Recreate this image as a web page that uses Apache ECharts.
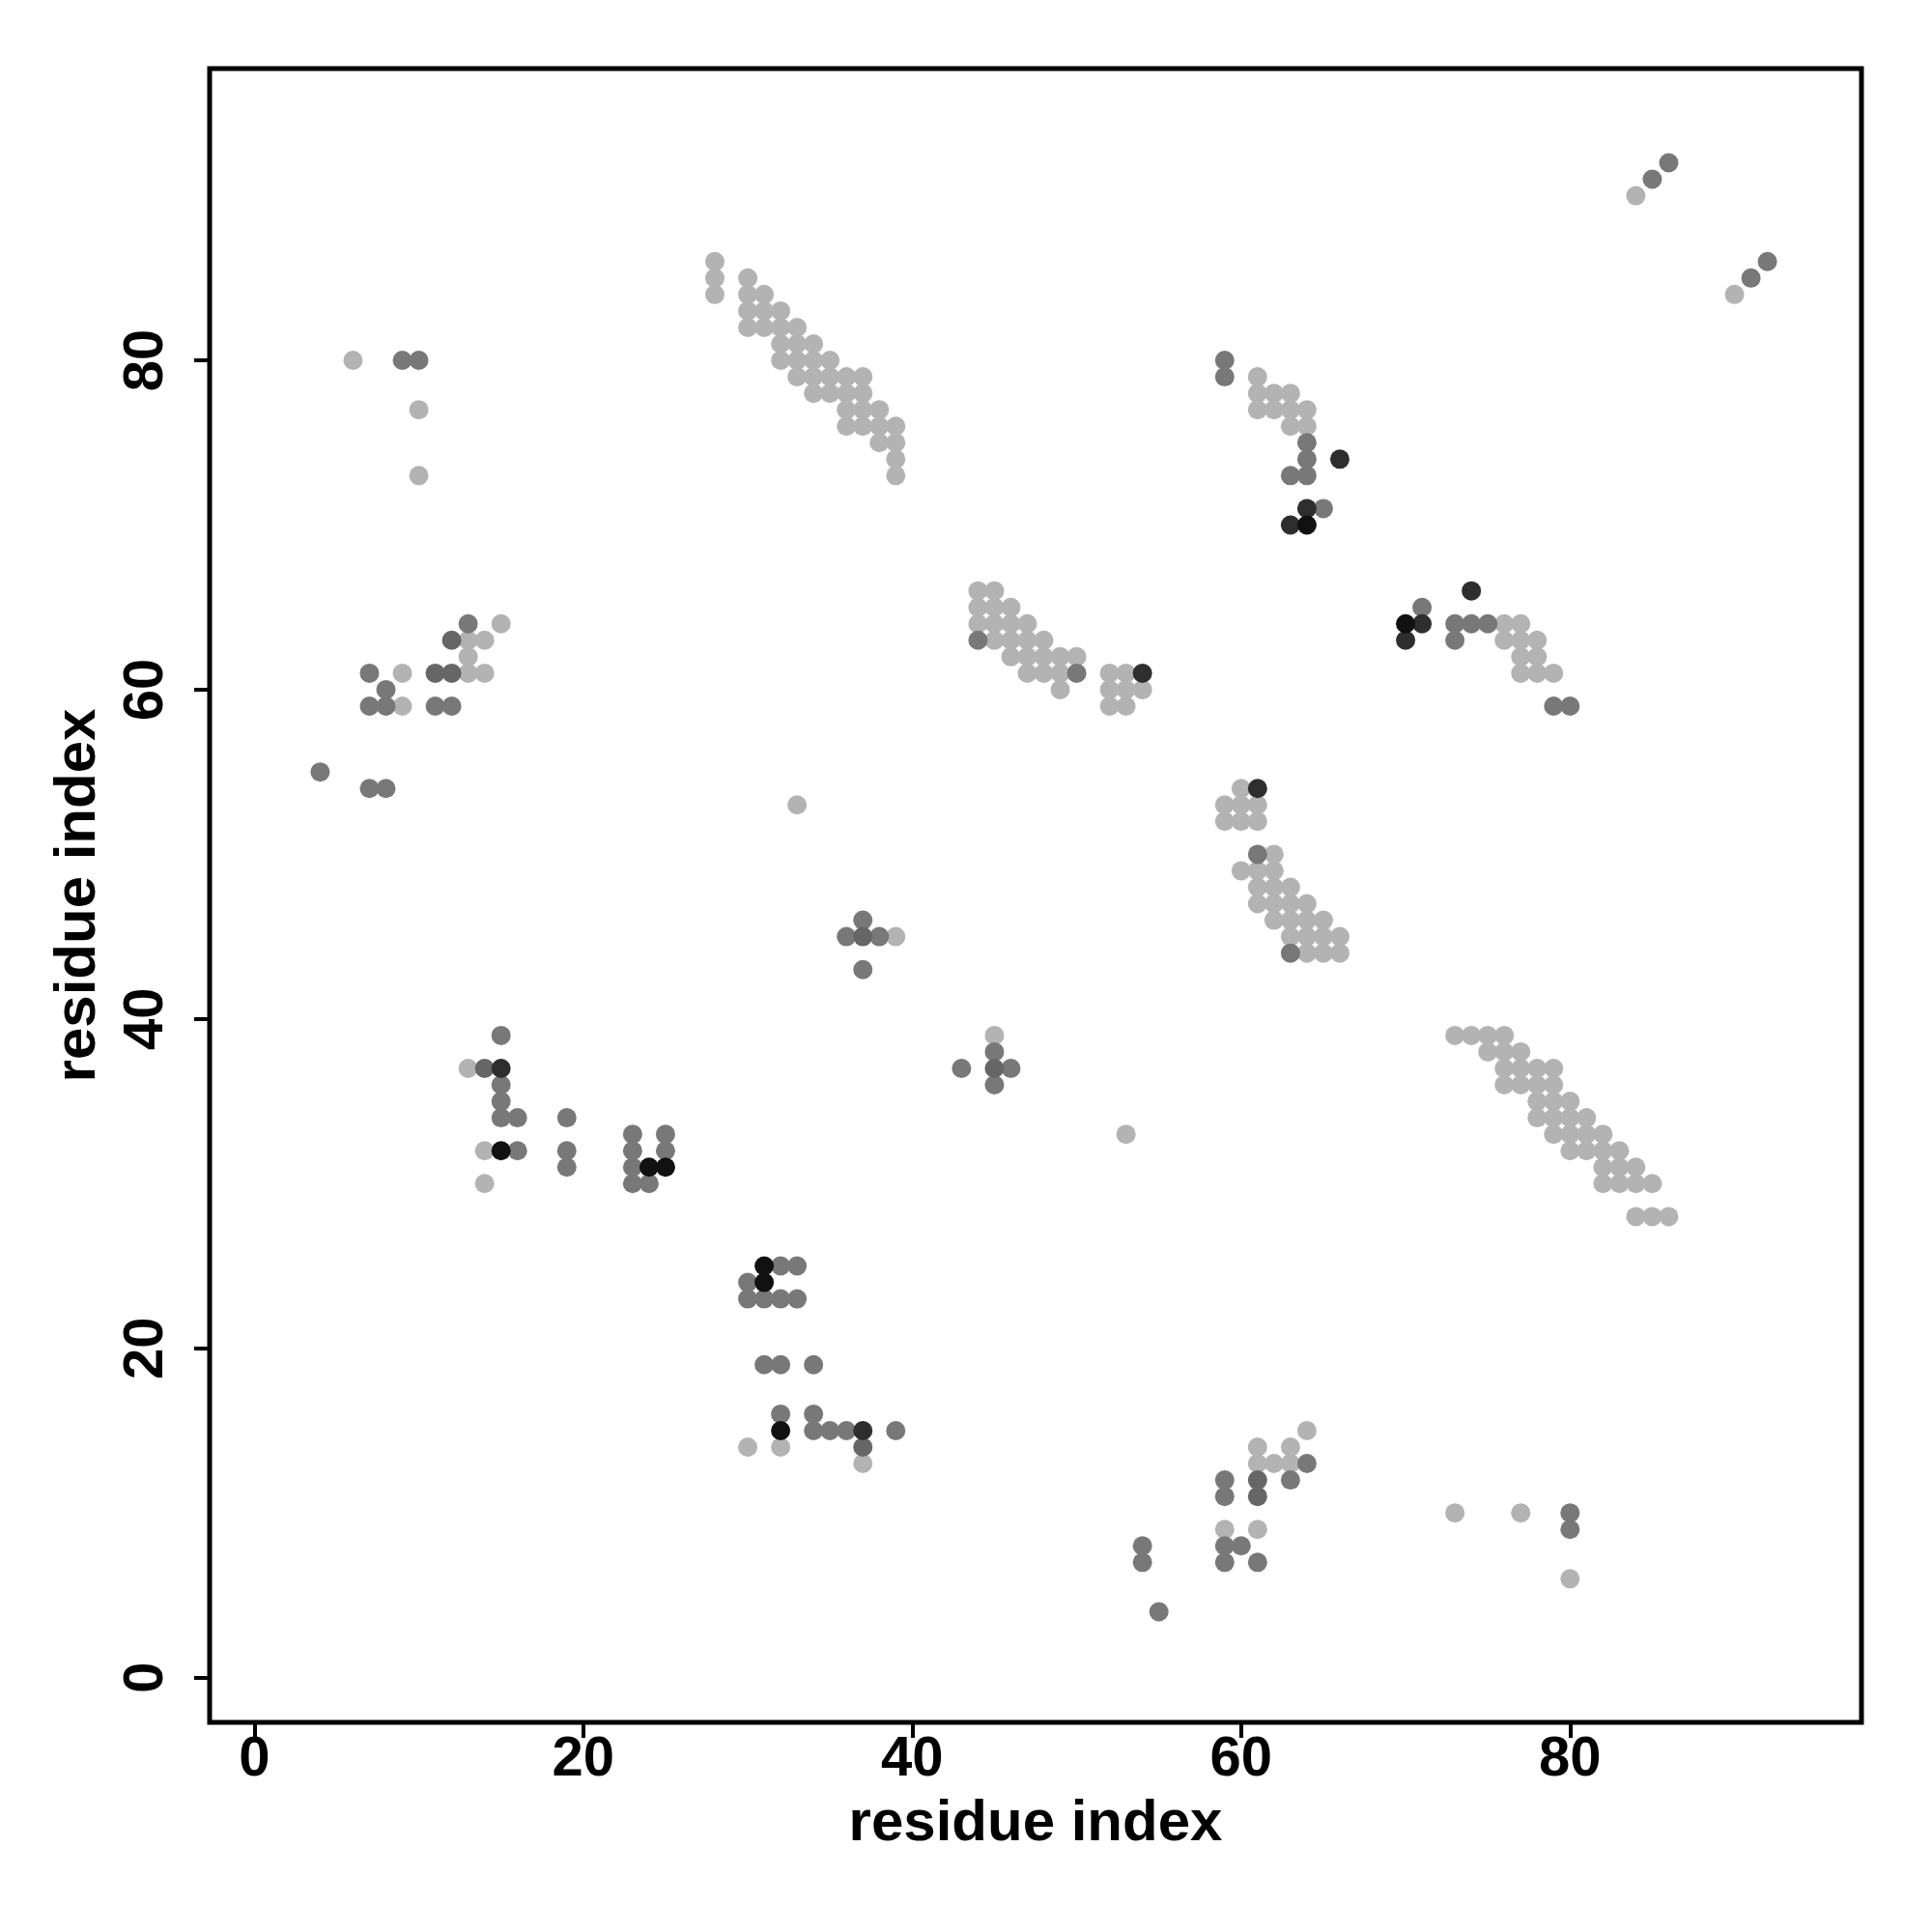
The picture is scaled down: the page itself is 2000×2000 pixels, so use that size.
<!DOCTYPE html>
<html><head><meta charset="utf-8">
<script src="https://cdn.jsdelivr.net/npm/echarts@6/dist/echarts.min.js"></script>
<style>html,body{margin:0;padding:0;background:#fff}#chart{width:2000px;height:2000px}</style>
</head><body><div id="chart"></div>
<script>
const xTicks = [0, 20, 40, 60, 80];
const yTicks = [0, 20, 40, 60, 80];
const axisTitleX = 'residue index';
const axisTitleY = 'residue index';

const lightPts = [
 [6,80],[10,77],[10,73],
 [9,61],[9,59],[13,63],[14,63],[13,62],[13,61],[14,61],[15,64],
 [28,86],[28,85],[28,84],[30,85],[30,84],[30,83],[30,82],[31,84],[31,83],[31,82],[32,83],[32,82],[32,81],[32,80],
 [33,82],[33,81],[33,80],[33,79],[34,81],[34,80],[34,79],[34,78],[35,80],[35,79],[35,78],[36,79],[36,78],[36,77],[36,76],
 [37,79],[37,78],[37,77],[37,76],[38,77],[38,76],[38,75],[39,76],[39,75],[39,74],[39,73],
 [61,79],[61,78],[62,78],[63,78],[61,77],[62,77],[63,77],[64,77],[63,76],[64,76],
 [84,90],[90,84],
 [44,66],[45,66],[44,65],[45,65],[46,65],[44,64],[45,64],[46,64],[47,64],[45,63],[46,63],[47,63],[48,63],
 [46,62],[47,62],[48,62],[49,62],[50,62],[47,61],[48,61],[49,61],[52,61],[53,61],[49,60],[52,60],[53,60],[54,60],[52,59],[53,59],
 [76,64],[77,64],[76,63],[77,63],[78,63],[77,62],[78,62],[77,61],[78,61],[79,61],
 [33,53],
 [60,54],[59,53],[60,53],[61,53],[59,52],[60,52],[61,52],[62,50],[60,49],[61,49],[62,49],[61,48],[62,48],[63,48],
 [61,47],[62,47],[63,47],[64,47],[62,46],[63,46],[64,46],[65,46],[63,45],[64,45],[65,45],[66,45],[64,44],[65,44],[66,44],
 [39,45],[45,39],
 [13,37],[14,32],[14,30],
 [53,33],
 [73,39],[74,39],[75,39],[76,39],[75,38],[76,38],[77,38],[76,37],[77,37],[78,37],[79,37],[76,36],[77,36],[78,36],[79,36],
 [78,35],[79,35],[80,35],[78,34],[79,34],[80,34],[81,34],[79,33],[80,33],[81,33],[82,33],[80,32],[81,32],[82,32],[83,32],
 [82,31],[83,31],[84,31],[82,30],[83,30],[84,30],[85,30],[84,28],[85,28],[86,28],
 [30,14],[32,14],[37,13],
 [64,15],[61,14],[63,14],[61,13],[62,13],[63,13],[59,9],[61,9],
 [73,10],[77,10],[80,6]
];
const midPts = [
 [9,80],[10,80],
 [7,61],[8,60],[7,59],[8,59],[11,59],[12,59],[13,64],[4,55],[7,54],[8,54],
 [59,80],[59,79],[64,75],[64,74],[63,73],[64,73],[65,71],
 [85,91],[86,92],[91,85],[92,86],
 [44,63],[50,61],
 [71,65],[73,64],[74,64],[75,64],[73,63],[79,59],[80,59],
 [61,50],[63,44],
 [37,46],[36,45],[38,45],[37,43],
 [45,38],[43,37],[46,37],[45,36],
 [15,39],[15,36],[15,35],[15,34],[16,34],[19,34],[23,33],[25,33],[16,32],[19,32],[23,32],[25,32],[19,31],[23,31],[23,30],[24,30],
 [32,25],[33,25],[30,24],[30,23],[31,23],[32,23],[33,23],[31,19],[32,19],[34,19],[32,16],[34,16],[34,15],[35,15],[36,15],[39,15],
 [64,13],[59,12],[63,12],[59,11],[54,8],[59,8],[60,8],[54,7],[59,7],[61,7],[55,4],
 [80,10],[80,9]
];
const midDarkPts = [
 [11,61],[12,61],[12,63],[14,37],[37,45],[45,37],[61,12],[61,11],[37,14]
];
const darkPts = [
 [15,37],[54,61],[61,54],[66,74],[64,71],[63,70],[74,66],[70,63],[71,64],[37,15]
];
const blackPts = [
 [64,70],[70,64],[15,32],[32,15],[31,25],[31,24],[24,31],[25,31]
];

const chart = echarts.init(document.getElementById('chart'), null, {renderer: 'canvas'});
const font = {fontFamily: '"Liberation Sans", Arial, Helvetica, sans-serif', fontWeight: 'bold', fontSize: 58, color: '#000'};
const tickStyle = {show: true, inside: false, length: 16, lineStyle: {color: '#000', width: 4}};
function mk(data, color) {
  return {type: 'scatter', data: data, symbol: 'circle', symbolSize: 20,
    itemStyle: {color: color, opacity: 1}, emphasis: {disabled: true}, silent: true};
}
chart.setOption({
  animation: false,
  backgroundColor: '#fff',
  grid: {left: 217, top: 71, width: 1710, height: 1712, show: true, borderColor: '#000', borderWidth: 5,
         backgroundColor: 'transparent', outerBoundsMode: 'none', containLabel: false},
  xAxis: {
    type: 'value', min: -2.72, max: 97.72, position: 'bottom',
    name: axisTitleX, nameLocation: 'middle', nameGap: 75,
    nameTextStyle: Object.assign({}, font, {fontSize: 60}),
    axisLine: {show: false, onZero: false},
    axisTick: Object.assign({customValues: xTicks}, tickStyle),
    axisLabel: Object.assign({customValues: xTicks, margin: 10}, font),
    splitLine: {show: false}
  },
  yAxis: {
    type: 'value', min: -2.72, max: 97.72, position: 'left',
    name: axisTitleY, nameLocation: 'middle', nameGap: 106,
    nameTextStyle: Object.assign({}, font, {fontSize: 60}),
    axisLine: {show: false, onZero: false},
    axisTick: Object.assign({customValues: yTicks}, tickStyle),
    axisLabel: Object.assign({customValues: yTicks, margin: 36, rotate: 90}, font),
    splitLine: {show: false}
  },
  series: [
    mk(lightPts, '#b3b3b3'),
    mk(midPts, '#787878'),
    mk(midDarkPts, '#666666'),
    mk(darkPts, '#2e2e2e'),
    mk(blackPts, '#111111')
  ]
});
</script>
</body></html>
